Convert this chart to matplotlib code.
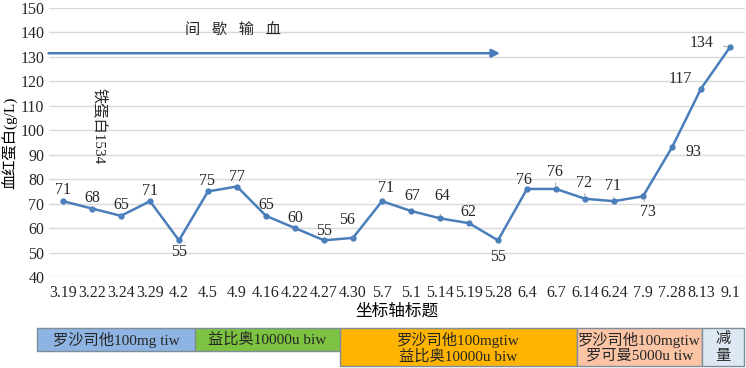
import matplotlib
matplotlib.use("Agg")
import matplotlib.pyplot as plt
from matplotlib.patches import Rectangle

plt.rcParams['font.family'] = ['Liberation Serif', 'Noto Sans CJK SC', 'DejaVu Sans']

dates = ["3.19", "3.22", "3.24", "3.29", "4.2", "4.5", "4.9", "4.16", "4.22", "4.27",
         "4.30", "5.7", "5.1", "5.14", "5.19", "5.28", "6.4", "6.7", "6.14", "6.24",
         "7.9", "7.28", "8.13", "9.1"]
hb = [71, 68, 65, 71, 55, 75, 77, 65, 60, 55, 56, 71, 67, 64, 62, 55, 76, 76, 72, 71,
      73, 93, 117, 134]

# label offsets (pixels) and whether a leader line is shown
label_offsets = [(0, 11), (0, 11), (0, 11), (0, 10), (0, -12), (-1, 10), (0, 10), (0, 11),
                 (0, 10), (0, 9), (-6, 18), (4, 13), (1, 15), (2, 22), (-1, 11), (0, -17),
                 (-3, 9), (-1, 17), (-1, 16), (-1, 15), (5, -16), (21, -5), (-21, 10), (-28, 4)]
leaders = [False, True, True, False, False, False, False, False, False, False, True, False,
           False, True, False, False, False, True, True, True, True, True, True, True]

transfusion_text = "间   歇   输   血"
transfusion_level = 131.5
transfusion_end = 15.07
ferritin_text = "铁蛋白1534"

treatments = ["罗沙司他100mg tiw", "益比奥10000u biw", "罗沙司他100mgtiw\n益比奥10000u biw",
              "罗沙司他100mgtiw\n罗可曼5000u tiw", "减\n量"]
treat_colors = ["#8DB4E2", "#7CC341", "#FFB500", "#FBC5A5", "#DDE8F4"]
# box geometry in figure pixels (x0, x1, y_top, y_bottom) and text line spacing
treat_boxes = [(37, 195, 328, 351), (195, 340, 328, 351), (340, 577, 328, 366),
               (577, 702, 328, 366), (702, 744, 328, 366)]
treat_spacing = [1.0, 1.0, 1.1, 1.1, 1.35]

W, H = 746, 368
fig = plt.figure(figsize=(W / 100, H / 100), dpi=100)
ax = fig.add_axes([48.5 / W, 1 - 277 / H, (744.5 - 48.5) / W, (277 - 8) / H])

line_color = "#4A7EBB"
x = list(range(len(dates)))
ax.plot(x, hb, color=line_color, lw=1.8, marker='o', ms=3.5, zorder=3)

ax.set_xlim(-0.5, len(dates) - 0.5)
ax.set_ylim(40, 150)
ax.set_yticks(range(40, 151, 10))
ax.set_xticks(x)
ax.set_xticklabels(dates)
ax.tick_params(axis='both', length=0, labelsize=11.5, colors='#262626')
ax.tick_params(axis='x', pad=6)
ax.tick_params(axis='y', pad=3)
ax.grid(axis='y', color='#D9D9D9', lw=1)
ax.set_axisbelow(True)
for s in ax.spines.values():
    s.set_visible(False)

ax.set_ylabel("血红蛋白(g/L)", fontsize=11, labelpad=2)
ax.set_xlabel("坐标轴标题", fontsize=12, labelpad=2)

for xi, v, (dx, dy), ld in zip(x, hb, label_offsets, leaders):
    ap = dict(arrowstyle='-', color='#A6A6A6', lw=0.7, shrinkA=5, shrinkB=2) if ld else None
    ax.annotate(str(v), (xi, v), xytext=(dx, dy), textcoords='offset pixels',
                ha='center', va='center', fontsize=11.5, color='#262626', arrowprops=ap)

# transfusion arrow
ax.annotate("", xy=(transfusion_end, transfusion_level), xytext=(-0.5, transfusion_level),
            arrowprops=dict(arrowstyle='-|>', color=line_color, lw=1.8, mutation_scale=12,
                            shrinkA=0, shrinkB=0), zorder=4)
ax.text(5.85, 141, transfusion_text, ha='center', va='center', fontsize=11, color='#262626')
ax.text(1.28, 101.5, ferritin_text, ha='center', va='center', rotation=-90, fontsize=11,
        color='#262626')

# treatment bar
ov = fig.add_axes([0, 0, 1, 1])
ov.set_xlim(0, W)
ov.set_ylim(H, 0)
ov.axis('off')
ov.patch.set_alpha(0)
for (x0, x1, yt, yb), c, t, ls in zip(treat_boxes, treat_colors, treatments, treat_spacing):
    ov.add_patch(Rectangle((x0, yt), x1 - x0, yb - yt, facecolor=c, edgecolor='#7F8C99', lw=1))
    ov.text((x0 + x1) / 2, (yt + yb) / 2 + 0.5, t, ha='center', va='center', fontsize=11,
            color='#262626', linespacing=ls)

fig.savefig("out.png", dpi=100)
